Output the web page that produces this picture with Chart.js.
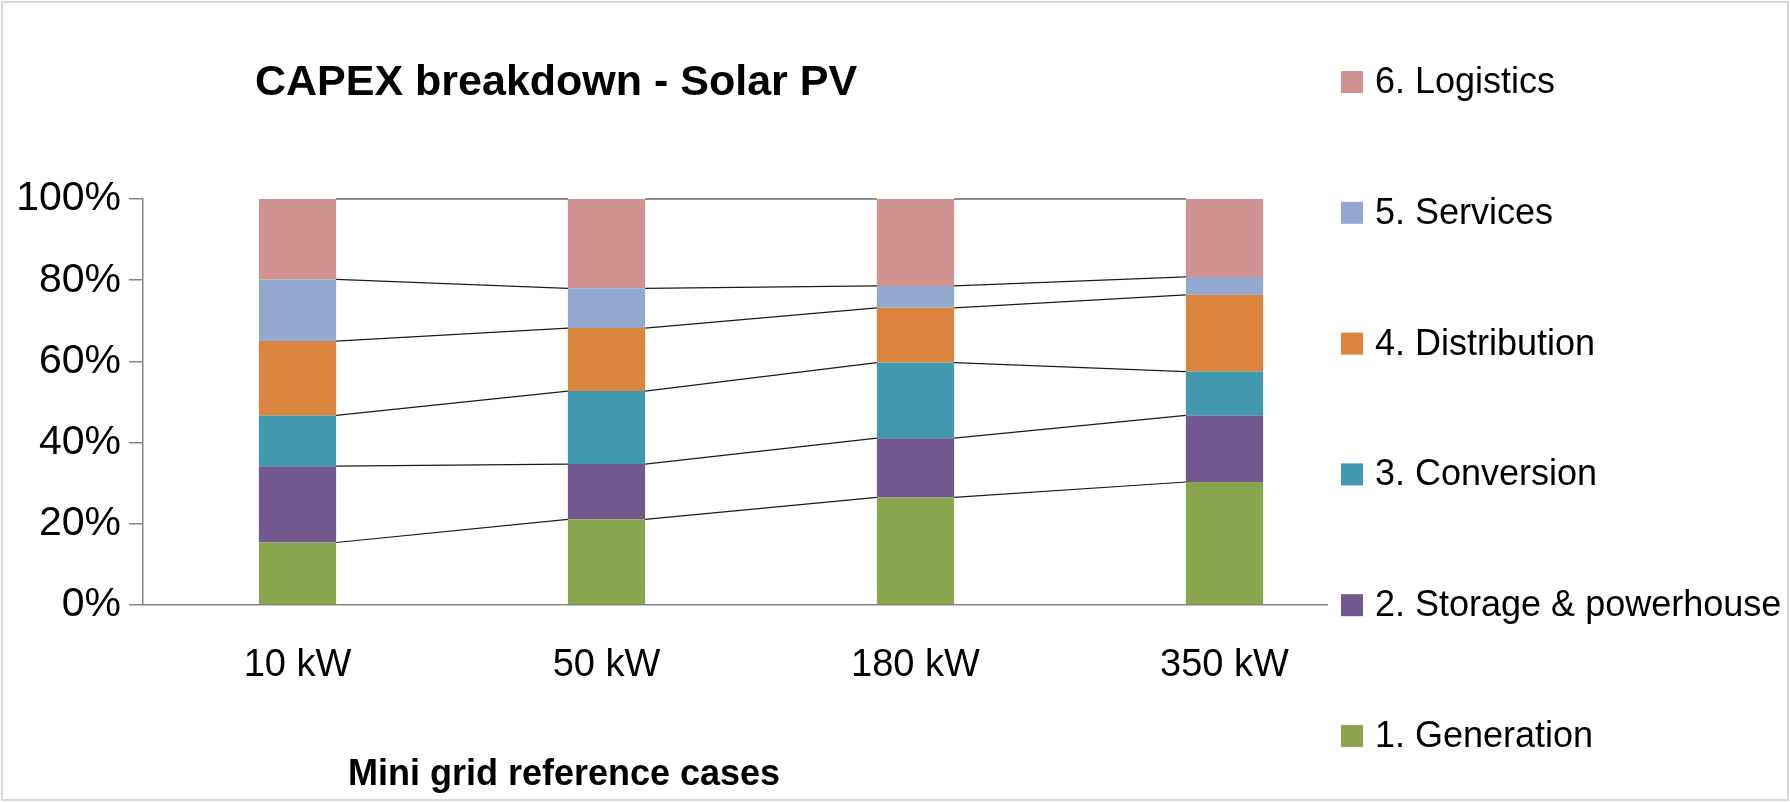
<!DOCTYPE html>
<html>
<head>
<meta charset="utf-8">
<title>CAPEX breakdown - Solar PV</title>
<script src="https://cdn.jsdelivr.net/npm/chart.js@4.4.1/dist/chart.umd.min.js"></script>
<style>
    html, body { margin: 0; padding: 0; background: #fff; }
    #wrap { width: 1790px; height: 803px; position: relative; }
</style>
</head>
<body>
<div id="wrap"><canvas id="capexChart" width="1790" height="803"></canvas></div>
<script>
// Mini grid reference cases and the share (%) of each CAPEX block
const cases = ['10 kW', '50 kW', '180 kW', '350 kW'];
const generation   = [15.4, 21.1, 26.5, 30.3];
const storage      = [18.8, 13.6, 14.6, 16.4];
const conversion   = [12.5, 18.0, 18.6, 10.8];
const distribution = [18.3, 15.5, 13.5, 18.9];
const services     = [15.2,  9.8,  5.4,  4.4];
const logistics    = [19.8, 22.0, 21.4, 19.2];
const yTicks = [0, 20, 40, 60, 80, 100];

const FONT = "'Liberation Sans', Arial, sans-serif";

const series = [
    { label: '1. Generation', data: generation, color: '#89A54E' },
    { label: '2. Storage & powerhouse', data: storage, color: '#71588F' },
    { label: '3. Conversion', data: conversion, color: '#4198AF' },
    { label: '4. Distribution', data: distribution, color: '#DB843D' },
    { label: '5. Services', data: services, color: '#93A9CF' },
    { label: '6. Logistics', data: logistics, color: '#D19392' },
];

// Excel style "series lines" between neighbouring stacks
const seriesLines = {
    id: 'seriesLines',
    afterDatasetsDraw(chart) {
        const ctx = chart.ctx;
        ctx.save();
        ctx.strokeStyle = '#1a1a1a';
        ctx.lineWidth = 1.2;
        chart.data.datasets.forEach((ds, di) => {
            const bars = chart.getDatasetMeta(di).data;
            for (let i = 0; i < bars.length - 1; i++) {
                const a = bars[i];
                const b = bars[i + 1];
                ctx.beginPath();
                ctx.moveTo(a.x + a.width / 2, a.y);
                ctx.lineTo(b.x - b.width / 2, b.y);
                ctx.stroke();
            }
        });
        ctx.restore();
    },
};

// title, axis title, legend on the right and the outer frame
const decorations = {
    id: 'decorations',
    afterDraw(chart) {
        const ctx = chart.ctx;
        ctx.save();

        // legend box sits over the right end of the plot area
        ctx.fillStyle = '#fff';
        ctx.fillRect(1328, 3, 460, 797);

        ctx.fillStyle = '#000';
        ctx.textBaseline = 'alphabetic';
        ctx.textAlign = 'left';
        ctx.font = `bold 43px ${FONT}`;
        ctx.fillText('CAPEX breakdown - Solar PV', 255, 95);

        ctx.textAlign = 'center';
        ctx.font = `bold 36px ${FONT}`;
        ctx.fillText('Mini grid reference cases', 564, 785);

        ctx.textAlign = 'left';
        ctx.textBaseline = 'middle';
        ctx.font = `36px ${FONT}`;
        const items = chart.data.datasets.slice().reverse();
        items.forEach((ds, i) => {
            const cy = 82 + i * 130.8;
            ctx.fillStyle = ds.backgroundColor;
            ctx.fillRect(1341, cy - 11, 22, 22);
            ctx.fillStyle = '#000';
            ctx.fillText(ds.label, 1375, cy + 1);
        });

        ctx.strokeStyle = '#d9d9d9';
        ctx.lineWidth = 2;
        ctx.strokeRect(2, 2, 1786, 798);
        ctx.restore();
    },
};

new Chart(document.getElementById('capexChart'), {
    type: 'bar',
    data: {
        labels: cases,
        datasets: series.map((s) => ({
            label: s.label,
            data: s.data,
            backgroundColor: s.color,
            borderWidth: 0,
            categoryPercentage: 1,
            barPercentage: 0.25,
        })),
    },
    options: {
        responsive: false,
        animation: false,
        layout: { padding: { top: 199, right: 411, bottom: 0, left: 0 } },
        plugins: {
            legend: { display: false },
            title: { display: false },
            tooltip: { enabled: false },
        },
        scales: {
            x: {
                stacked: true,
                grid: { display: false, drawTicks: false },
                border: { display: true, color: '#868686', width: 1.5 },
                ticks: { color: '#000', font: { family: FONT, size: 38 }, padding: 38 },
                afterFit(scale) { scale.height = 198; },
            },
            y: {
                stacked: true,
                min: 0,
                max: 100,
                afterBuildTicks(scale) { scale.ticks = yTicks.map((v) => ({ value: v })); },
                grid: { drawOnChartArea: false, drawTicks: true, tickLength: 14, color: '#868686', lineWidth: 1.5 },
                border: { display: true, color: '#868686', width: 1.5 },
                ticks: {
                    color: '#000',
                    font: { family: FONT, size: 41 },
                    padding: 8,
                    callback(v) { return `${v}%`; },
                },
                afterFit(scale) { scale.width = 143; },
            },
        },
    },
    plugins: [seriesLines, decorations],
});
</script>
</body>
</html>
